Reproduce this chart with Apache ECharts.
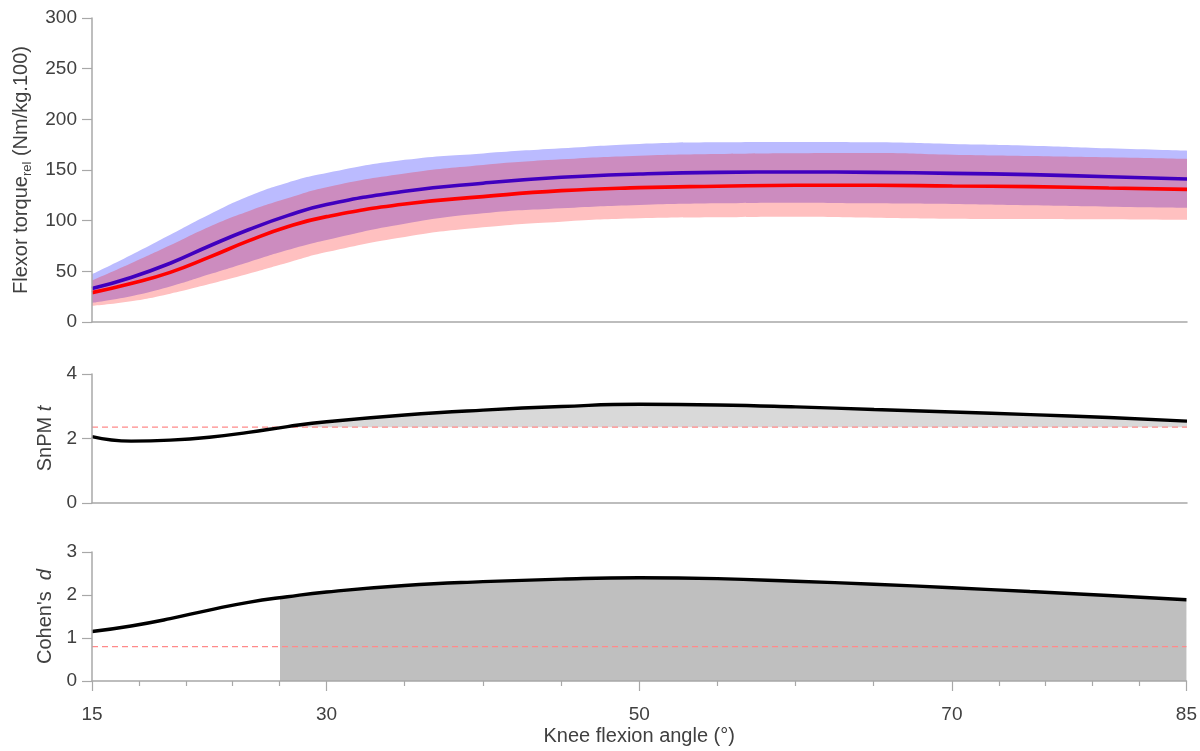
<!DOCTYPE html>
<html>
<head>
<meta charset="utf-8">
<script src="https://cdn.jsdelivr.net/npm/echarts@6/dist/echarts.min.js"></script>
<style>
  html, body { margin: 0; padding: 0; background: #fff; }
  #chart { width: 1200px; height: 751px; }
</style>
</head>
<body>
<div id="chart"></div>
<script>
// knee angle samples (deg)
var angles    = [15, 17.5, 20, 22.5, 25, 27.5, 30, 35, 40, 45, 50, 55, 60, 65, 70, 75, 80, 85];
// flexor torque, group 1 (blue) and group 2 (red): mean and +/- SD bounds
var blueMean  = [33, 44, 58, 75, 91, 105, 116, 129, 137, 142.8, 146.1, 147.7, 148, 147.7, 146.7, 145.4, 143.4, 141.1];
var blueUpper = [47, 66, 86, 106, 124, 137.5, 147, 160, 166.4, 171.4, 175.7, 177.3, 177.6, 177.3, 175.7, 174, 171.4, 169.1];
var blueLower = [19, 25.5, 35, 47, 59, 71, 81, 97, 107.2, 112.2, 115.5, 117.1, 117.8, 117.1, 116.4, 115.1, 113.8, 112.8];
var redMean   = [29, 38, 49, 64, 80, 94, 104, 116.5, 123.7, 129.6, 132.6, 134, 135, 134.9, 134.2, 133.6, 132.2, 130.9];
var redUpper  = [41, 58, 75.7, 94, 109.3, 122, 133, 146.5, 154.9, 160.5, 164.1, 165.8, 166.6, 166.8, 165.1, 163.8, 162.5, 160.9];
var redLower  = [16, 20.5, 28, 37.5, 47.7, 58.5, 69, 84, 93.4, 99, 102.3, 103.3, 103.9, 103, 102, 101.6, 101.3, 100.7];
// SnPM t statistic and Cohen's d
var snpmT     = [2.06, 1.92, 1.95, 2.04, 2.19, 2.37, 2.52, 2.73, 2.88, 2.99, 3.06, 3.04, 2.98, 2.9, 2.82, 2.74, 2.65, 2.54];
var cohenD    = [1.15, 1.28, 1.45, 1.65, 1.83, 1.96, 2.07, 2.22, 2.31, 2.37, 2.4, 2.38, 2.32, 2.25, 2.17, 2.08, 1.99, 1.89];
var snpmThreshold = 2.35;
var dThreshold = 0.8;
var dClusterStart = 27;
// x axis ticks
var xMajorTicks = [15, 30, 50, 70, 85];
var xMinorTicks = [18, 21, 24, 27, 35, 40, 45, 55, 60, 65, 73, 76, 79, 82];

var xMin = angles[0], xMax = angles[angles.length - 1];
var axisColor = '#a8a8a8';
var textColor = '#404040';
var font = 'Liberation Sans, Arial, sans-serif';

function pairs(ys) {
	return angles.map(function (a, i) { return [a, ys[i]]; });
}
function flat(v) {
	return [[xMin, v], [xMax, v]];
}

function yAxis(idx, max, interval, name, gap) {
	return {
		type: 'value', gridIndex: idx, min: 0, max: max, interval: interval, z: 10,
		name: name, nameLocation: 'middle', nameGap: gap,
		nameTextStyle: { rich: nameRich },
		axisLine: { show: true, lineStyle: { color: axisColor, width: 1.5 } },
		axisTick: { show: true, length: 10, lineStyle: { color: axisColor, width: 1.2 } },
		axisLabel: { color: textColor, fontSize: 19, fontFamily: font, margin: 15 },
		splitLine: { show: false }
	};
}
function xAxisPlain(idx) {
	return {
		type: 'value', gridIndex: idx, min: xMin, max: xMax, z: 10,
		axisLine: { show: true, lineStyle: { color: axisColor, width: 1.5 } },
		axisTick: { show: false }, axisLabel: { show: false }, splitLine: { show: false }
	};
}
function line(xi, yi, data, color, width, extra) {
	var s = {
		type: 'line', xAxisIndex: xi, yAxisIndex: yi, data: data, smooth: 0.5,
		symbol: 'none', silent: true,
		lineStyle: { color: color, width: width }
	};
	for (var k in extra) s[k] = extra[k];
	return s;
}
// filled area from a curve down to the axis (painted in order)
function area(xi, yi, data, fill, extra) {
	var s = line(xi, yi, data, 'rgba(0,0,0,0)', 0, { areaStyle: { color: fill, opacity: 1 } });
	for (var k in extra) s[k] = extra[k];
	return s;
}

var nameRich = {
	n: { fontSize: 20, fontFamily: font, color: textColor, lineHeight: 26 },
	s: { fontSize: 13, fontFamily: font, color: textColor, verticalAlign: 'bottom', lineHeight: 14 },
	i: { fontSize: 20, fontFamily: font, color: textColor, fontStyle: 'italic', lineHeight: 26 }
};

var frac = (dClusterStart - xMin) / (xMax - xMin);
var dFill = new echarts.graphic.LinearGradient(0, 0, 1, 0, [
	{ offset: 0, color: 'rgba(191,191,191,0)' },
	{ offset: frac, color: 'rgba(191,191,191,0)' },
	{ offset: frac, color: '#bfbfbf' },
	{ offset: 1, color: '#bfbfbf' }
]);

var chart = echarts.init(document.getElementById('chart'));
var option = {
	animation: false,
	backgroundColor: '#fff',
	grid: [
		{ left: 92, right: 13, top: 18, height: 304 },
		{ left: 92, right: 13, top: 374, height: 129 },
		{ left: 92, right: 13, top: 552, height: 129 }
	],
	xAxis: [
		xAxisPlain(0),
		xAxisPlain(1),
		{
			type: 'value', gridIndex: 2, min: xMin, max: xMax, z: 10, position: 'bottom',
			name: 'Knee flexion angle (°)', nameLocation: 'middle', nameGap: 45,
			nameTextStyle: { color: textColor, fontSize: 20, fontFamily: font },
			axisLine: { show: true, lineStyle: { color: axisColor, width: 1.5 } },
			axisTick: { show: true, length: 10, customValues: xMajorTicks, lineStyle: { color: axisColor, width: 1.2 } },
			axisLabel: { color: textColor, fontSize: 19, fontFamily: font, margin: 24, customValues: xMajorTicks },
			splitLine: { show: false }
		},
		{
			type: 'value', gridIndex: 2, min: xMin, max: xMax, z: 10, position: 'bottom', offset: 0,
			axisLine: { show: false },
			axisTick: { show: true, length: 5, customValues: xMinorTicks, lineStyle: { color: axisColor, width: 1.2 } },
			axisLabel: { show: false },
			splitLine: { show: false }
		}
	],
	yAxis: [
		yAxis(0, 300, 50, '{n|Flexor torque}{s|rel}{n| (Nm/kg.100)}', 48),
		yAxis(1, 4, 2, '{n|SnPM }{i|t}', 31),
		yAxis(2, 3, 1, '{n|Cohen\'s  }{i|d}', 31)
	],
	series: [
		// SD bands: blue-only, overlap, red-only, then white below
		area(0, 0, pairs(blueUpper), '#bbbbff'),
		area(0, 0, pairs(redUpper), '#cc8cbf'),
		area(0, 0, pairs(blueLower), '#ffc0c0'),
		area(0, 0, pairs(redLower), '#ffffff'),
		line(0, 0, pairs(blueMean), '#4000bf', 3.6),
		line(0, 0, pairs(redMean), '#ff0000', 3.6),

		// SnPM: grey supra-threshold area, white mask below threshold
		area(1, 1, pairs(snpmT), '#d9d9d9'),
		area(1, 1, flat(snpmThreshold), '#ffffff', { smooth: false }),
		line(1, 1, flat(snpmThreshold), '#ff8a8a', 1.2, { smooth: false }),
		line(1, 1, pairs(snpmT), '#000000', 3.4),

		// Cohen's d with shaded cluster
		area(2, 2, pairs(cohenD), dFill),
		line(2, 2, flat(dThreshold), '#ff8a8a', 1.2, { smooth: false }),
		line(2, 2, pairs(cohenD), '#000000', 3.4)
	]
};
option.series[8].lineStyle.type = [6, 4];
option.series[11].lineStyle.type = [6, 4];
chart.setOption(option);
</script>
</body>
</html>
